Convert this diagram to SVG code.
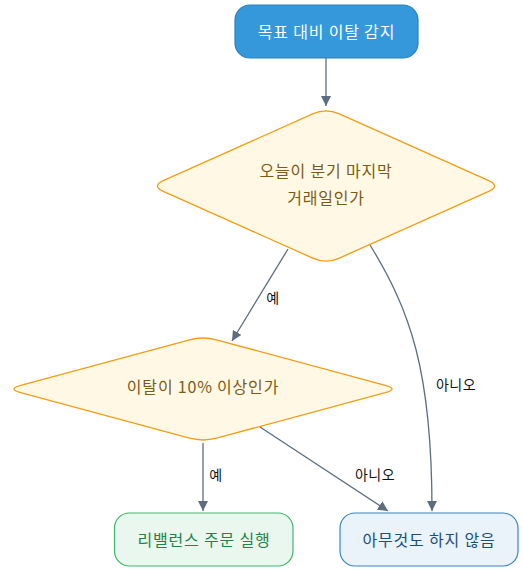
<svg xmlns="http://www.w3.org/2000/svg" width="523" height="571" viewBox="0 0 523 571">
<defs>
<marker id="ah" viewBox="0 0 10 10" refX="10" refY="5" markerWidth="10" markerHeight="10" markerUnits="userSpaceOnUse" orient="auto">
<path d="M0,0 L10,5 L0,10 Z" fill="#5d6d7e"/>
</marker>
<style>
text{font-family:"Noto Sans CJK KR","Noto Sans",sans-serif;text-anchor:middle;dominant-baseline:central}
.edge{fill:none;stroke:#5d6d7e;stroke-width:1.3;marker-end:url(#ah)}
.lbl{font-size:14px;fill:#111;letter-spacing:0.4px}
.dec{fill:#fef8e5;stroke:#f39c12;stroke-width:1.3}
.dect{font-size:16px;fill:#7d5a14;letter-spacing:0.8px}
.nt{font-size:16px;letter-spacing:0.8px}
</style>
</defs>
<rect width="523" height="571" fill="#ffffff"/>
<g id="connectors">
<path class="edge" d="M326,58 L326,106"/>
<path class="edge" d="M288,249 L232,341"/>
<path class="edge" d="M370,245 C410,310 432,370 432,511"/>
<path class="edge" d="M203,443 L203,511"/>
<path class="edge" d="M260,427 L388,511"/>
<text class="lbl" x="273" y="297">예</text>
<text class="lbl" x="456" y="384">아니오</text>
<text class="lbl" x="216" y="474">예</text>
<text class="lbl" x="375" y="474">아니오</text>
</g>
<g id="start">
<rect x="235" y="5" width="183" height="53" rx="15" fill="#3498db" stroke="#2a80c0" stroke-width="1.2"/>
<text class="nt" x="326.5" y="31" fill="#ffffff">목표 대비 이탈 감지</text>
</g>
<g id="q1">
<path class="dec" d="M313.2,113.7 Q326,108 338.8,113.7 L488.2,180.3 Q501,186 488.2,191.7 L338.8,258.3 Q326,264 313.2,258.3 L163.8,191.7 Q151,186 163.8,180.3 Z"/>
<text class="dect" x="326" y="170">오늘이 분기 마지막</text>
<text class="dect" x="326" y="197">거래일인가</text>
</g>
<g id="q2">
<path class="dec" d="M189.5,339.8 Q203,336.2 216.5,339.8 L385.25,385.4 Q398.75,389 385.25,392.6 L216.5,438.2 Q203,441.8 189.5,438.2 L20.75,392.6 Q7.25,389 20.75,385.4 Z"/>
<text class="dect" x="203" y="386">이탈이 10% 이상인가</text>
</g>
<g id="rebalance">
<rect x="114.5" y="513" width="178.5" height="53" rx="15" fill="#e9f7ee" stroke="#3cb86a" stroke-width="1.2"/>
<text class="nt" x="204" y="538.5" fill="#1e8449">리밸런스 주문 실행</text>
</g>
<g id="nothing">
<rect x="340" y="513" width="178" height="53" rx="15" fill="#eaf2fa" stroke="#3a86c0" stroke-width="1.2"/>
<text class="nt" x="429" y="538.5" fill="#1a4f7a">아무것도 하지 않음</text>
</g>
</svg>
